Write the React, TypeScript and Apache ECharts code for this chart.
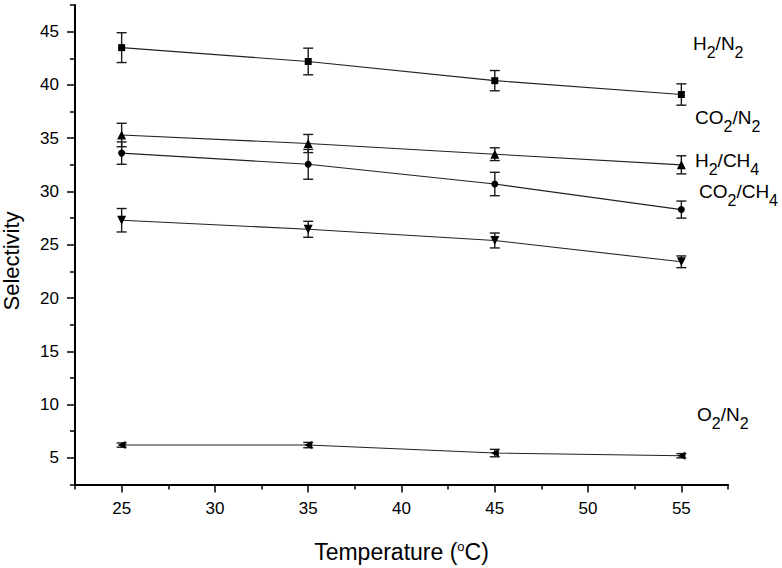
import React, { useEffect, useRef } from 'react';
import * as echarts from 'echarts';

const temperatures = [25, 35, 45, 55];
const xTickLabels = [25, 30, 35, 40, 45, 50, 55];
const yTickLabels = [5, 10, 15, 20, 25, 30, 35, 40, 45];

const h2n2 = [43.5, 42.2, 40.4, 39.1];
const h2n2Err = [1.4, 1.25, 0.95, 1.0];
const co2n2 = [35.3, 34.5, 33.5, 32.5];
const co2n2Err = [1.1, 0.85, 0.6, 0.85];
const h2ch4 = [33.6, 32.55, 30.7, 28.3];
const h2ch4Err = [1.05, 1.4, 1.1, 0.8];
const co2ch4 = [27.3, 26.45, 25.4, 23.4];
const co2ch4Err = [1.1, 0.75, 0.7, 0.55];
const o2n2 = [6.2, 6.2, 5.45, 5.2];
const o2n2Err = [0.2, 0.25, 0.35, 0.2];

const FONT = '"Liberation Sans", Arial, sans-serif';

const seriesDefs = [
  { name: 'H2/N2', values: h2n2, errs: h2n2Err, symbol: 'rect', size: 7, rotate: 0 },
  { name: 'CO2/N2', values: co2n2, errs: co2n2Err, symbol: 'triangle', size: 9, rotate: 0 },
  { name: 'H2/CH4', values: h2ch4, errs: h2ch4Err, symbol: 'circle', size: 7, rotate: 0 },
  { name: 'CO2/CH4', values: co2ch4, errs: co2ch4Err, symbol: 'triangle', size: 9, rotate: 180 },
  { name: 'O2/N2', values: o2n2, errs: o2n2Err, symbol: 'triangle', size: 8, rotate: 90 },
];

const labelDefs = [
  { text: '{m|H}{s|2}{m|/N}{s|2}', x: 693, y: 38 },
  { text: '{m|CO}{s|2}{m|/N}{s|2}', x: 695, y: 112 },
  { text: '{m|H}{s|2}{m|/CH}{s|4}', x: 695, y: 155 },
  { text: '{m|CO}{s|2}{m|/CH}{s|4}', x: 699, y: 186 },
  { text: '{m|O}{s|2}{m|/N}{s|2}', x: 697, y: 409 },
];

const isMultipleOf5 = (v: number) => Math.abs(v / 5 - Math.round(v / 5)) < 1e-6;

export default function App() {
  const ref = useRef<HTMLDivElement>(null);
  useEffect(() => {
    if (!ref.current) return;
    const chart = echarts.init(ref.current, null, { renderer: 'svg' });

    const errorSeries = seriesDefs.map((s) => ({
      type: 'custom',
      name: s.name + ' err',
      xAxisIndex: 0,
      yAxisIndex: 0,
      silent: true,
      data: temperatures.map((t, i) => [t, s.values[i] - s.errs[i], s.values[i] + s.errs[i]]),
      encode: { x: 0, y: [1, 2] },
      renderItem: (params: any, api: any) => {
        const x = api.value(0);
        const top = api.coord([x, api.value(2)]);
        const bot = api.coord([x, api.value(1)]);
        const hw = 5;
        const st = { stroke: '#1a1a1a', lineWidth: 1.4 };
        return {
          type: 'group',
          children: [
            { type: 'line', shape: { x1: top[0], y1: top[1], x2: bot[0], y2: bot[1] }, style: st },
            { type: 'line', shape: { x1: top[0] - hw, y1: top[1], x2: top[0] + hw, y2: top[1] }, style: st },
            { type: 'line', shape: { x1: bot[0] - hw, y1: bot[1], x2: bot[0] + hw, y2: bot[1] }, style: st },
          ],
        };
      },
    }));

    const lineSeries = seriesDefs.map((s) => ({
      type: 'line',
      name: s.name,
      xAxisIndex: 0,
      yAxisIndex: 0,
      silent: true,
      data: temperatures.map((t, i) => [t, s.values[i]]),
      symbol: s.symbol,
      symbolSize: s.size,
      symbolRotate: s.rotate,
      showSymbol: true,
      itemStyle: { color: '#000' },
      lineStyle: { color: '#222', width: 1.1 },
    }));

    const axisLineStyle = { color: '#000', width: 2 };
    const tickStyle = { color: '#000', width: 1.5 };

    chart.setOption({
      animation: false,
      backgroundColor: '#fff',
      grid: { left: 75, top: 5, right: 54, bottom: 81, containLabel: false },
      xAxis: [
        {
          type: 'value',
          position: 'bottom',
          min: 22.5,
          max: 57.5,
          interval: 5,
          axisLine: { show: true, onZero: false, lineStyle: axisLineStyle },
          axisTick: { show: true, length: 5, lineStyle: tickStyle },
          minorTick: { show: true, splitNumber: 2, length: 8, lineStyle: tickStyle },
          axisLabel: { show: false },
          splitLine: { show: false },
          minorSplitLine: { show: false },
          name: '{a|Temperature (}{b|o}{a|C)}',
          nameLocation: 'middle',
          nameGap: 53,
          nameTextStyle: {
            rich: {
              a: { fontSize: 23, fontFamily: FONT, color: '#000', lineHeight: 23, padding: [5, 0, 0, 0] },
              b: { fontSize: 13, fontFamily: FONT, color: '#000', lineHeight: 23, padding: [0, 0, 5, 0] },
            },
          },
        },
        {
          type: 'value',
          position: 'bottom',
          min: 22.5,
          max: 57.5,
          interval: 2.5,
          axisLine: { show: false, onZero: false },
          axisTick: { show: false },
          splitLine: { show: false },
          axisLabel: {
            show: true,
            margin: 15,
            fontSize: 17,
            fontFamily: FONT,
            color: '#000',
            formatter: (v: number) => (isMultipleOf5(v) && xTickLabels.includes(Math.round(v)) ? String(Math.round(v)) : ''),
          },
        },
      ],
      yAxis: [
        {
          type: 'value',
          position: 'left',
          min: 2.5,
          max: 47.5,
          interval: 5,
          axisLine: { show: true, onZero: false, lineStyle: axisLineStyle },
          axisTick: { show: true, length: 5, lineStyle: tickStyle },
          minorTick: { show: true, splitNumber: 2, length: 8, lineStyle: tickStyle },
          axisLabel: { show: false },
          splitLine: { show: false },
          minorSplitLine: { show: false },
        },
        {
          type: 'value',
          position: 'left',
          min: 2.5,
          max: 47.5,
          interval: 2.5,
          axisLine: { show: false, onZero: false },
          axisTick: { show: false },
          splitLine: { show: false },
          axisLabel: {
            show: true,
            margin: 16,
            fontSize: 17,
            fontFamily: FONT,
            color: '#000',
            formatter: (v: number) => (isMultipleOf5(v) && yTickLabels.includes(Math.round(v)) ? String(Math.round(v)) : ''),
          },
        },
      ],
      series: [...errorSeries, ...lineSeries],
      graphic: [
        {
          type: 'text',
          x: 11,
          y: 261,
          rotation: Math.PI / 2,
          style: { text: 'Selectivity', font: `22px ${FONT}`, fill: '#000', align: 'center', verticalAlign: 'middle' },
        },
        ...labelDefs.map((l) => ({
          type: 'text',
          x: l.x,
          y: l.y,
          style: {
            text: l.text,
            align: 'left',
            verticalAlign: 'top',
            fill: '#000',
            font: `19px ${FONT}`,
            rich: {
              m: { fontSize: 19, fontFamily: FONT, fill: '#000', lineHeight: 19, padding: [0, 0, 9, 0] },
              s: { fontSize: 16, fontFamily: FONT, fill: '#000', lineHeight: 19, padding: [9, 0, 0, 0] },
            },
          },
        })),
      ],
    });
    return () => chart.dispose();
  }, []);
  return <div ref={ref} style={{ width: 782, height: 568, position: 'absolute', left: 0, top: 0 }} />;
}
